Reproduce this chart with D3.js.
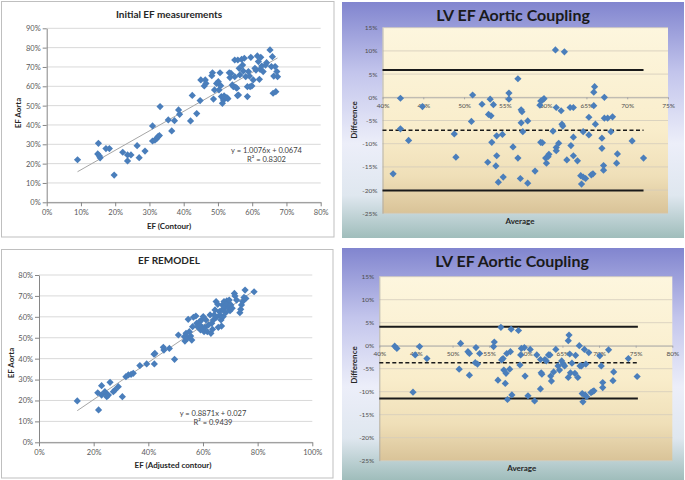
<!DOCTYPE html>
<html><head><meta charset="utf-8">
<script src="https://cdn.jsdelivr.net/npm/d3@7/dist/d3.min.js"></script>
<style>body{margin:0;background:#fff}svg{display:block}</style>
</head><body><svg id="c" width="685" height="480"></svg>
<script>
// ---------- DATA ----------
// Panel 1: Initial EF measurements  [EF (Contour) %, EF Aorta %]
const initialPoints = [[9,22],[15.1,30.5],[14.9,25],[15.4,24],[15.6,23],[17.3,27.8],[18.3,27.8],[19.7,14.1],[22.2,25.9],[23.6,21.4],[23.6,24.5],[24.6,24.5],[26.4,29.3],[27,23.1],[28.7,26.5],[30.9,39.5],[30.9,31.7],[31.6,32.2],[32.1,32.9],[32.5,34],[32.9,34.5],[33.1,49.5],[35.5,42.6],[36.5,36.9],[37.3,42.2],[38.5,47.8],[38.8,45.5],[42,42.1],[42.5,55.3],[43.8,45.9],[44.8,52.6],[45,63.3],[46,60.2],[46.3,63.3],[46.5,61.5],[48.2,65.5],[48.4,67],[48.7,53.4],[49,58.1],[49.6,61.5],[50.1,62.4],[50.3,58.1],[50.6,67],[50.8,60.3],[51,54.7],[51.3,51.2],[51.6,52.9],[51.8,55],[52.6,54.1],[52.9,53.6],[53.5,64.5],[53.3,67],[53.8,66.7],[54.2,60.7],[54.5,59.8],[54.9,65],[54.9,73.6],[55.2,59.5],[55.5,59],[55.8,73.6],[55.7,55.2],[56,55.5],[56.2,69.3],[56.4,65.9],[56.9,73.9],[57.2,71],[57.4,67.9],[57.7,74.5],[58.1,65],[58.6,54.7],[58.6,59.8],[58.9,67.6],[59.2,65.3],[59.4,59.8],[59.6,75],[59.9,60.2],[60.3,63.3],[60.8,69.3],[61.1,68.4],[61.5,75.7],[61.8,72.8],[62.1,63.6],[62.3,68.8],[62.5,75],[62.8,70.5],[63.2,67.6],[63.9,71],[64.2,72.2],[65.2,78.8],[65.6,70.2],[65.9,75.3],[66.1,56.4],[66.3,65.3],[66.7,70.2],[66.9,57.2],[67.2,67.6],[67.4,65]];
const initialTrend = {slope: 1.0076, intercept: 0.0674, r2: 0.8302, from: 9, to: 67.4};
const initialXTicks = [0,10,20,30,40,50,60,70,80];
const initialYTicks = [0,10,20,30,40,50,60,70,80,90];

// Panel 2: LV EF Aortic Coupling (initial)  [Average %, Difference %]
const coupling1Points = [[41.3,-16.5],[42.2,-0.2],[42.2,-6.8],[43.2,-9.3],[44.9,-2.0],[48.8,-7.9],[49.0,-12.9],[50.9,-5.2],[51.05,0.5],[52.2,-1.5],[53.2,-0.4],[53.0,-3.7],[53.3,-4.0],[53.6,-1.6],[53.4,-9.7],[52.9,-14.0],[54.0,-8.3],[54.0,-12.6],[53.9,-14.8],[54.2,-18.3],[54.7,-8.0],[54.8,-17.2],[55.5,0.9],[55.5,-0.4],[56.6,4.0],[56.0,-10.7],[56.6,-13.1],[56.9,-17.5],[57.0,-2.7],[57.1,-3.1],[57.0,-5.5],[57.2,-7.4],[57.8,-5.1],[57.8,-18.5],[58.7,-15.9],[59.3,-1.7],[59.4,-0.8],[59.6,-0.6],[59.8,-0.3],[59.4,-9.7],[59.6,-9.8],[60.0,-13.1],[60.1,-14.2],[60.3,-12.8],[60.4,-12.3],[60.9,-7.3],[61.2,10.2],[62.3,9.8],[61.3,-2.2],[61.9,-2.9],[62.0,-5.8],[62.1,-6.2],[61.3,-10.8],[61.3,-11.5],[61.6,-9.9],[63.0,-2.2],[63.4,-2.2],[63.4,-8.6],[63.1,-10.4],[62.6,-13.5],[63.4,-12.6],[63.9,-13.7],[64.6,-7.4],[65.3,-4.3],[65.3,-8.1],[64.3,-16.9],[64.4,-18.7],[64.9,-17.5],[64.6,-17.2],[65.6,-16.7],[65.8,-16.5],[66.0,2.3],[65.9,1.1],[65.9,-1.8],[66.1,-5.8],[67.2,0.0],[66.9,-8.8],[66.9,-11.0],[67.1,-14.7],[67.1,-15.7],[67.2,-4.5],[67.6,-4.5],[68.2,-4.2],[68.0,-7.4],[68.8,-12.2],[68.7,-14.2],[70.6,-9.4],[72.0,-13.1]];
const coupling1Limits = {mean: -7.1, upper: 5.9, lower: -20.1, from: 40, to: 72};
const coupling1XTicks = [40,45,50,55,60,65,70,75];
const couplingYTicks = [-25,-20,-15,-10,-5,0,5,10,15];

// Panel 3: EF REMODEL  [EF (Adjusted contour) %, EF Aorta %]
const remodelPoints = [[14.0,19.8],[21.5,23.7],[21.8,15.5],[22.9,27.1],[22.9,22.6],[24.1,24.2],[24.5,23.4],[24.8,21.8],[25.4,22.6],[26.0,28.7],[27.2,24.2],[27.8,25.0],[29.0,26.6],[30.5,21.8],[31.8,31.4],[32.7,32.2],[33.7,32.5],[34.5,33.0],[36.9,36.7],[39.4,37.5],[42.1,42.1],[42.4,42.5],[42.2,37.5],[45.5,45.4],[45.7,44.1],[47.7,44.9],[49.6,39.7],[51.0,51.3],[53.4,48.4],[53.2,50.5],[53.8,52.1],[54.3,49.7],[54.6,58.8],[55.0,52.9],[55.5,50.8],[55.9,48.9],[56.2,55.3],[56.5,59.8],[57.4,60.4],[57.7,56.9],[58.0,55.3],[58.7,57.7],[58.9,56.1],[59.1,53.7],[59.5,58.5],[59.9,54.5],[60.1,60.1],[60.4,52.9],[60.7,55.0],[61.1,58.5],[61.6,52.9],[62.0,56.1],[62.6,60.9],[62.9,52.1],[63.2,56.9],[63.5,54.0],[63.8,58.5],[64.1,60.9],[64.4,63.3],[64.8,67.3],[65.0,59.8],[65.4,66.0],[65.6,55.0],[66.0,62.5],[66.2,60.9],[66.6,58.5],[66.8,55.6],[67.1,65.7],[67.2,63.6],[67.4,60.1],[67.7,67.3],[68.0,64.9],[68.3,62.0],[68.7,67.6],[68.9,66.1],[69.3,64.1],[69.6,68.0],[69.9,62.9],[70.2,65.7],[70.7,64.1],[71.5,71.2],[71.7,70.0],[72.3,68.0],[73.5,62.0],[73.8,63.6],[74.1,65.7],[74.5,67.3],[75.0,69.3],[75.4,72.8],[75.7,68.8],[78.7,72.0]];
const remodelTrend = {slope: 0.8871, intercept: 0.027, r2: 0.9439, from: 14, to: 78.7};
const remodelXTicks = [0,20,40,60,80,100];
const remodelYTicks = [0,10,20,30,40,50,60,70,80];

// Panel 4: LV EF Aortic Coupling (remodel)  [Average %, Difference %]
const coupling2Points = [[42.1,-0.1],[42.4,-0.6],[44.6,-10.1],[44.9,-2.0],[45.5,-0.2],[46.5,-2.8],[50.9,-5.1],[51.1,0.5],[52.1,-1.3],[52.3,-1.7],[52.3,-6.4],[53.2,-0.4],[53.1,-3.7],[53.4,-4.0],[53.7,-1.7],[55.6,-0.2],[55.7,0.8],[56.2,-7.5],[56.6,4.0],[56.7,-3.1],[56.9,-2.8],[57.0,-5.3],[57.2,-8.2],[57.3,-6.0],[57.4,-1.7],[57.5,-11.7],[57.8,-5.1],[57.9,-1.3],[58.0,3.6],[58.1,-10.7],[59.0,3.3],[59.2,-4.2],[59.3,-2.0],[59.4,-0.6],[59.8,-0.4],[59.9,-6.6],[60.3,-10.9],[60.6,-0.8],[61.2,-12.0],[61.5,-2.0],[62.0,-3.0],[62.0,-9.4],[62.1,-5.9],[62.2,-6.2],[62.6,-3.0],[62.8,-3.3],[63.1,-2.0],[63.3,-2.0],[63.4,-6.6],[63.5,-7.7],[63.8,-5.7],[64.1,-0.8],[64.4,-4.4],[64.6,-5.3],[64.9,-3.3],[65.1,-4.0],[65.3,-4.4],[65.8,-6.9],[65.9,2.3],[65.8,1.1],[66.0,-1.8],[66.1,-5.9],[66.3,-3.8],[66.7,-6.0],[66.8,-2.1],[67.1,-6.9],[67.3,0.0],[67.4,-4.4],[67.6,-4.4],[67.8,-12.2],[67.7,-10.4],[68.0,-0.8],[68.1,-10.7],[68.2,-4.0],[68.3,-11.1],[68.6,-1.5],[68.9,-10.2],[69.1,-10.0],[69.3,-9.8],[70.1,-2.2],[70.3,-4.4],[70.5,-8.0],[70.5,-9.1],[71.3,-0.9],[72.0,-5.7],[71.9,-7.6],[74.0,-2.8],[75.2,-6.7]];
const coupling2Limits = {mean: -3.7, upper: 4.1, lower: -11.5, from: 40, to: 75.3};
const coupling2XTicks = [40,45,50,55,60,65,70,75,80];

// ---------- DRAWING ----------
const FONT = 'Lato, "Open Sans", "Liberation Sans", sans-serif';
const svg = d3.select('#c');
const defs = svg.append('defs');
const BLUE = '#4a7ebb';

const outerGrad = defs.append('linearGradient').attr('id','outerG').attr('x1',0).attr('y1',0).attr('x2',0).attr('y2',1);
[[0,'#8185cf'],[0.3,'#c3c5ec'],[0.6,'#eceef9'],[0.82,'#dfe7ef'],[1,'#9fbdbb']].forEach(s=>outerGrad.append('stop').attr('offset',s[0]).attr('stop-color',s[1]));
const plotGrad = defs.append('linearGradient').attr('id','plotG').attr('x1',0).attr('y1',0).attr('x2',0).attr('y2',1);
[[0,'#fdf6de'],[0.55,'#f9edcb'],[0.8,'#efdfb8'],[1,'#d9c398']].forEach(s=>plotGrad.append('stop').attr('offset',s[0]).attr('stop-color',s[1]));

const pct = d => d + '%';
const diamond = 'M0,-3.6L3.6,0L0,3.6L-3.6,0Z';

function drawPoints(g, pts, x, y) {
  g.selectAll(null).data(pts).enter().append('path')
    .attr('d', diamond)
    .attr('transform', d => `translate(${x(d[0])},${y(d[1])})`)
    .attr('fill', BLUE);
}

function scatterPanel(cfg) {
  const g = svg.append('g');
  g.append('rect').attr('x',cfg.frame[0]).attr('y',cfg.frame[1]).attr('width',cfg.frame[2]).attr('height',cfg.frame[3])
    .attr('fill','#fff').attr('stroke','#bfbfbf').attr('stroke-width',1);
  const x = d3.scaleLinear().domain(d3.extent(cfg.xTicks)).range(cfg.xr);
  const y = d3.scaleLinear().domain(d3.extent(cfg.yTicks)).range(cfg.yr);
  // gridlines
  g.selectAll(null).data(cfg.yTicks).enter().append('line')
    .attr('x1',cfg.xr[0]).attr('x2',cfg.xr[1]).attr('y1',d=>y(d)).attr('y2',d=>y(d))
    .attr('stroke','#d9d9d9').attr('stroke-width',1);
  // axes
  const ax = g.append('g').attr('transform',`translate(0,${cfg.yr[0]})`)
    .call(d3.axisBottom(x).tickValues(cfg.xTicks).tickFormat(pct).tickSize(4).tickSizeOuter(0));
  const ay = g.append('g').attr('transform',`translate(${cfg.xr[0]},0)`)
    .call(d3.axisLeft(y).tickValues(cfg.yTicks).tickFormat(pct).tickSize(4).tickSizeOuter(0));
  [ax, ay].forEach(a => {
    a.select('.domain').attr('stroke','#868686');
    a.selectAll('.tick line').attr('stroke','#868686');
    a.selectAll('text').attr('fill','#595959').style('font-family',FONT).style('font-size','7.5px');
  });
  ay.selectAll('text').attr('x',-6);
  ax.selectAll('text').attr('y',7);
  // trendline
  const t = cfg.trend;
  g.append('line').attr('x1',x(t.from)).attr('x2',x(t.to))
    .attr('y1',y(100*(t.slope*t.from/100 + t.intercept))).attr('y2',y(100*(t.slope*t.to/100 + t.intercept)))
    .attr('stroke','#a6a6a6').attr('stroke-width',1);
  drawPoints(g, cfg.points, x, y);
  // texts
  g.append('text').attr('x',cfg.title[0]).attr('y',cfg.title[1]).attr('text-anchor','middle')
    .style('font-family',FONT).style('font-size','10px').style('font-weight','bold').attr('fill','#262626').text(cfg.title[2]);
  g.append('text').attr('x',cfg.xlab[0]).attr('y',cfg.xlab[1]).attr('text-anchor','middle')
    .style('font-family',FONT).style('font-size','8px').style('font-weight','bold').attr('fill','#262626').text(cfg.xlab[2]);
  g.append('text').attr('transform',`translate(${cfg.ylab[0]},${cfg.ylab[1]}) rotate(-90)`).attr('text-anchor','middle')
    .style('font-family',FONT).style('font-size','8px').style('font-weight','bold').attr('fill','#262626').text(cfg.ylab[2]);
  const sign = t.intercept >= 0 ? '+' : '-';
  g.append('text').attr('x',cfg.eq[0]).attr('y',cfg.eq[1]).attr('text-anchor','middle')
    .style('font-family',FONT).style('font-size','7.5px').attr('fill','#404040')
    .text(`y = ${t.slope}x ${sign} ${Math.abs(t.intercept)}`);
  g.append('text').attr('x',cfg.eq[0]).attr('y',cfg.eq[1]+9.5).attr('text-anchor','middle')
    .style('font-family',FONT).style('font-size','7.5px').attr('fill','#404040')
    .text(`R² = ${t.r2}`);
}

function couplingPanel(cfg) {
  const g = svg.append('g');
  g.append('rect').attr('x',cfg.frame[0]).attr('y',cfg.frame[1]).attr('width',cfg.frame[2]).attr('height',cfg.frame[3])
    .attr('fill','url(#outerG)');
  const x = d3.scaleLinear().domain(d3.extent(cfg.xTicks)).range(cfg.xr);
  const y = d3.scaleLinear().domain(d3.extent(couplingYTicks)).range(cfg.yr);
  g.append('rect').attr('x',cfg.xr[0]).attr('y',cfg.yr[1]).attr('width',cfg.xr[1]-cfg.xr[0]).attr('height',cfg.yr[0]-cfg.yr[1])
    .attr('fill','url(#plotG)');
  g.selectAll(null).data(couplingYTicks).enter().append('line')
    .attr('x1',cfg.xr[0]).attr('x2',cfg.xr[1]).attr('y1',d=>y(d)).attr('y2',d=>y(d))
    .attr('stroke','#d3ccbb').attr('stroke-width',0.8);
  const ay = g.append('g').attr('transform',`translate(${cfg.xr[0]},0)`)
    .call(d3.axisLeft(y).tickValues(couplingYTicks).tickFormat(pct).tickSize(0).tickSizeOuter(0));
  const ax = g.append('g').attr('transform',`translate(0,${y(0)})`)
    .call(d3.axisBottom(x).tickValues(cfg.xTicks).tickFormat(pct).tickSize(2).tickSizeOuter(0));
  [ax, ay].forEach(a => {
    a.select('.domain').attr('stroke','#a6a6a6').attr('stroke-width',0.8);
    a.selectAll('.tick line').attr('stroke','#a6a6a6');
    a.selectAll('text').attr('fill','#4d4d4d').style('font-family',FONT).style('font-size','6.5px');
  });
  ay.selectAll('text').attr('x',-5);
  ax.selectAll('text').attr('y',6);
  const L = cfg.limits;
  [L.upper, L.lower].forEach(v => g.append('line').attr('x1',x(L.from)).attr('x2',x(L.to)).attr('y1',y(v)).attr('y2',y(v))
    .attr('stroke','#1a1a1a').attr('stroke-width',2));
  g.append('line').attr('x1',x(L.from)).attr('x2',x(L.to)).attr('y1',y(L.mean)).attr('y2',y(L.mean))
    .attr('stroke','#1a1a1a').attr('stroke-width',1.6).attr('stroke-dasharray','4,2.5');
  drawPoints(g, cfg.points, x, y);
  g.append('text').attr('x',cfg.title[0]).attr('y',cfg.title[1]).attr('text-anchor','middle')
    .style('font-family',FONT).style('font-size',cfg.title[3]).style('font-weight','bold').attr('fill','#1a1a1a').text('LV EF Aortic Coupling');
  g.append('text').attr('x',cfg.xlab[0]).attr('y',cfg.xlab[1]).attr('text-anchor','middle')
    .style('font-family',FONT).style('font-size','8px').style('font-weight','bold').attr('fill','#262626').text('Average');
  g.append('text').attr('transform',`translate(${cfg.ylab[0]},${cfg.ylab[1]}) rotate(-90)`).attr('text-anchor','middle')
    .style('font-family',FONT).style('font-size','8px').style('font-weight','bold').attr('fill','#262626').text('Difference');
}

scatterPanel({frame:[1.5,1.5,332.5,235.5], xr:[46.7,320.7], yr:[202.3,28.3], xTicks:initialXTicks, yTicks:initialYTicks,
  points:initialPoints, trend:initialTrend, title:[169,17.5,'Initial EF measurements'], xlab:[169,229,'EF (Contour)'],
  ylab:[20.5,113,'EF Aorta'], eq:[266.5,152.5]});
scatterPanel({frame:[1.5,249.5,331.5,228.5], xr:[39,312.3], yr:[442.3,275], xTicks:remodelXTicks, yTicks:remodelYTicks,
  points:remodelPoints, trend:remodelTrend, title:[169,264,'EF REMODEL'], xlab:[173,468,'EF (Adjusted contour)'],
  ylab:[13.5,363,'EF Aorta'], eq:[213,415.5]});
couplingPanel({frame:[342,2,342,236], xr:[382.5,668], yr:[213.3,27.7], xTicks:coupling1XTicks, points:coupling1Points,
  limits:coupling1Limits, title:[513,20.5,'14px'], xlab:[520,223.5], ylab:[356.5,120]});
couplingPanel({frame:[342,248,342,232], xr:[379.3,672.3], yr:[460.7,276.7], xTicks:coupling2XTicks, points:coupling2Points,
  limits:coupling2Limits, title:[512,267,'12px'], xlab:[521.7,470.5], ylab:[356.5,365]});
</script></body></html>
